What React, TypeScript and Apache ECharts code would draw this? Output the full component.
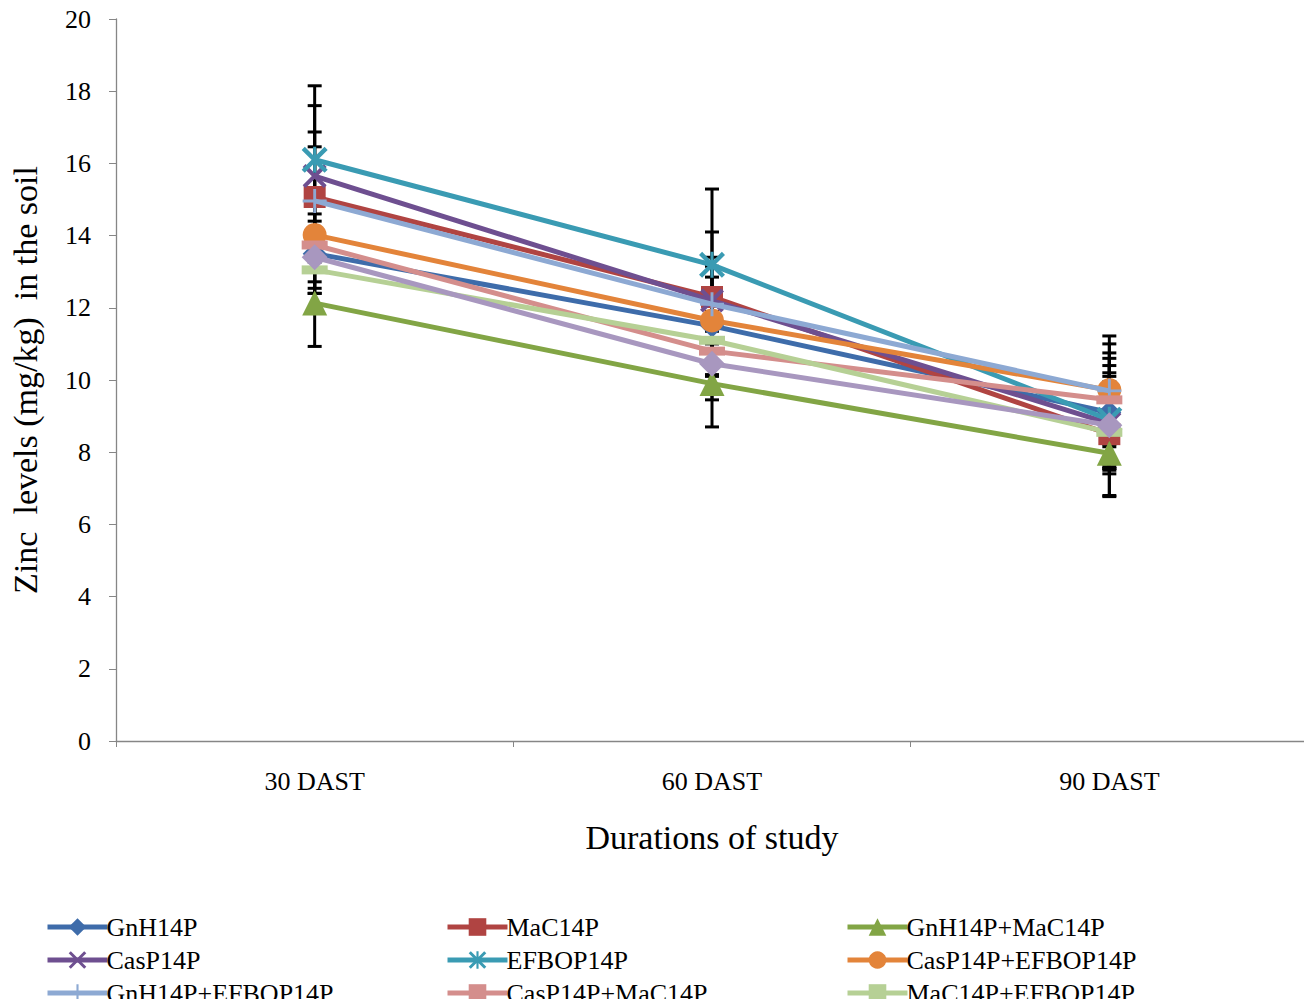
import React, { useEffect, useRef } from "react";
import * as echarts from "echarts";

const categories = ["30 DAST", "60 DAST", "90 DAST"];
const yTicks = [0, 2, 4, 6, 8, 10, 12, 14, 16, 18, 20];

const seriesNames = [
  "GnH14P",
  "MaC14P",
  "GnH14P+MaC14P",
  "CasP14P",
  "EFBOP14P",
  "CasP14P+EFBOP14P",
  "GnH14P+EFBOP14P",
  "CasP14P+MaC14P",
  "MaC14P+EFBOP14P",
  "CasP14P+GnH14P",
];

const gnh = [13.5, 11.5, 9.1];
const mac = [15.07, 12.3, 8.5];
const gnhMac = [12.13, 9.9, 7.97];
const casp = [15.65, 12.2, 8.8];
const efbop = [16.1, 13.19, 8.9];
const caspEfbop = [14.02, 11.65, 9.72];
const gnhEfbop = [14.96, 12.1, 9.7];
const caspMac = [13.74, 10.8, 9.45];
const macEfbop = [13.05, 11.1, 8.55];
const caspGnh = [13.4, 10.45, 8.75];

const gnhErr = [1.1, 1.0, 1.5];
const macErr = [1.8, 1.8, 1.7];
const gnhMacErr = [1.2, 1.2, 1.2];
const caspErr = [1.95, 1.2, 1.3];
const efbopErr = [2.05, 2.1, 1.5];
const caspEfbopErr = [1.3, 1.5, 1.5];
const gnhEfbopErr = [1.5, 0.75, 1.3];
const caspMacErr = [1.2, 1.1, 1.3];
const macEfbopErr = [1.15, 1.0, 1.0];
const caspGnhErr = [1.0, 1.0, 1.2];

const values = [gnh, mac, gnhMac, casp, efbop, caspEfbop, gnhEfbop, caspMac, macEfbop, caspGnh];
const errors = [gnhErr, macErr, gnhMacErr, caspErr, efbopErr, caspEfbopErr, gnhEfbopErr, caspMacErr, macEfbopErr, caspGnhErr];

const colors = [
  "#3E6CAA",
  "#B04442",
  "#82A545",
  "#6E4F90",
  "#3A9BB3",
  "#E3843A",
  "#8DA9D3",
  "#D48E8C",
  "#B6D095",
  "#A897BF",
];

const X_PATH = "path://M0,1.2L1.2,0L10,8.8L8.8,10Z M8.8,0L10,1.2L1.2,10L0,8.8Z";
const STAR_PATH = "path://M0,1.2L1.2,0L10,8.8L8.8,10Z M8.8,0L10,1.2L1.2,10L0,8.8Z M4.4,0H5.6V10H4.4Z";
const PLUS_PATH = "path://M4.4,0H5.6V10H4.4Z M0,4.4H10V5.6H0Z";
const DASH_PATH = "path://M0,3H10V7H0Z";

const symbols = ["diamond", "rect", "triangle", X_PATH, STAR_PATH, "circle", PLUS_PATH, DASH_PATH, DASH_PATH, "diamond"];
const symbolSizes: any[] = [24, 22, 25, 24, 26, 24, 24, [26, 9], [26, 9], 26];

// legend grid: 3 rows x 3 columns (the 10th entry is below the picture edge)
const legendRows = [
  ["GnH14P", "MaC14P", "GnH14P+MaC14P"],
  ["CasP14P", "EFBOP14P", "CasP14P+EFBOP14P"],
  ["GnH14P+EFBOP14P", "CasP14P+MaC14P", "MaC14P+EFBOP14P"],
];

export default function App() {
  const ref = useRef<HTMLDivElement>(null);
  useEffect(() => {
    if (!ref.current) return;
    const chart = echarts.init(ref.current, undefined, { renderer: "svg" });
    const font = "Liberation Serif";

    const errData: any[] = [];
    values.forEach((vals, si) => {
      vals.forEach((v, ci) => {
        errData.push([ci, v - errors[si][ci], v + errors[si][ci]]);
      });
    });

    const lineSeries = seriesNames.map((name, i) => ({
      name,
      type: "line",
      data: values[i],
      color: colors[i],
      symbol: symbols[i],
      symbolSize: symbolSizes[i],
      lineStyle: { width: 5, color: colors[i] },
      itemStyle: { color: colors[i] },
      z: 3 + i,
    }));

    const errSeries = {
      type: "custom",
      name: "err",
      data: errData,
      z: 2,
      silent: true,
      renderItem: (params: any, api: any) => {
        const x = api.value(0);
        const lo = api.coord([x, api.value(1)]);
        const hi = api.coord([x, api.value(2)]);
        const cw = 7;
        const style = { stroke: "#000", lineWidth: 3 };
        return {
          type: "group",
          children: [
            { type: "line", shape: { x1: lo[0], y1: lo[1], x2: hi[0], y2: hi[1] }, style },
            { type: "line", shape: { x1: lo[0] - cw, y1: lo[1], x2: lo[0] + cw, y2: lo[1] }, style },
            { type: "line", shape: { x1: hi[0] - cw, y1: hi[1], x2: hi[0] + cw, y2: hi[1] }, style },
          ],
        };
      },
    };

    const legendX = [45, 445, 845];
    const legendTop = [914, 947, 980];
    const legends: any[] = [];
    legendRows.forEach((row, r) => {
      row.forEach((name, c) => {
        legends.push({
          data: [name],
          orient: "horizontal",
          left: legendX[c],
          top: legendTop[r],
          itemWidth: 60,
          itemHeight: 22,
          padding: 0,
          lineStyle: { width: 5 },
          textStyle: { fontFamily: font, fontSize: 26, color: "#000", padding: [0, 0, 0, -6] },
          selectedMode: false,
        });
      });
    });

    chart.setOption({
      animation: false,
      textStyle: { fontFamily: font },
      grid: { left: 115, right: 4, top: 19, bottom: 266, containLabel: false },
      legend: legends,
      xAxis: {
        type: "category",
        data: categories,
        boundaryGap: true,
        axisLine: { lineStyle: { color: "#868686", width: 1.3 } },
        axisTick: { show: true, length: 6, lineStyle: { color: "#868686" } },
        axisLabel: { fontFamily: font, fontSize: 26, color: "#000", margin: 27 },
        name: "Durations of study",
        nameLocation: "middle",
        nameGap: 79,
        nameTextStyle: { fontFamily: font, fontSize: 34, color: "#000" },
      },
      yAxis: {
        type: "value",
        min: 0,
        max: 20,
        interval: 2,
        splitLine: { show: false },
        axisLine: { show: true, lineStyle: { color: "#868686", width: 1.3 } },
        axisTick: { show: true, length: 7, lineStyle: { color: "#868686" } },
        axisLabel: {
          fontFamily: font,
          fontSize: 26,
          color: "#000",
          margin: 25,
          formatter: (v: number) => (yTicks.includes(v) ? String(v) : ""),
        },
        name: "Zinc  levels (mg/kg)  in the soil",
        nameLocation: "middle",
        nameGap: 74,
        nameTextStyle: { fontFamily: font, fontSize: 34, color: "#000" },
      },
      series: [errSeries, ...lineSeries],
    });
    return () => chart.dispose();
  }, []);
  return <div ref={ref} style={{ width: 1312, height: 1007, margin: -8 }} />;
}
